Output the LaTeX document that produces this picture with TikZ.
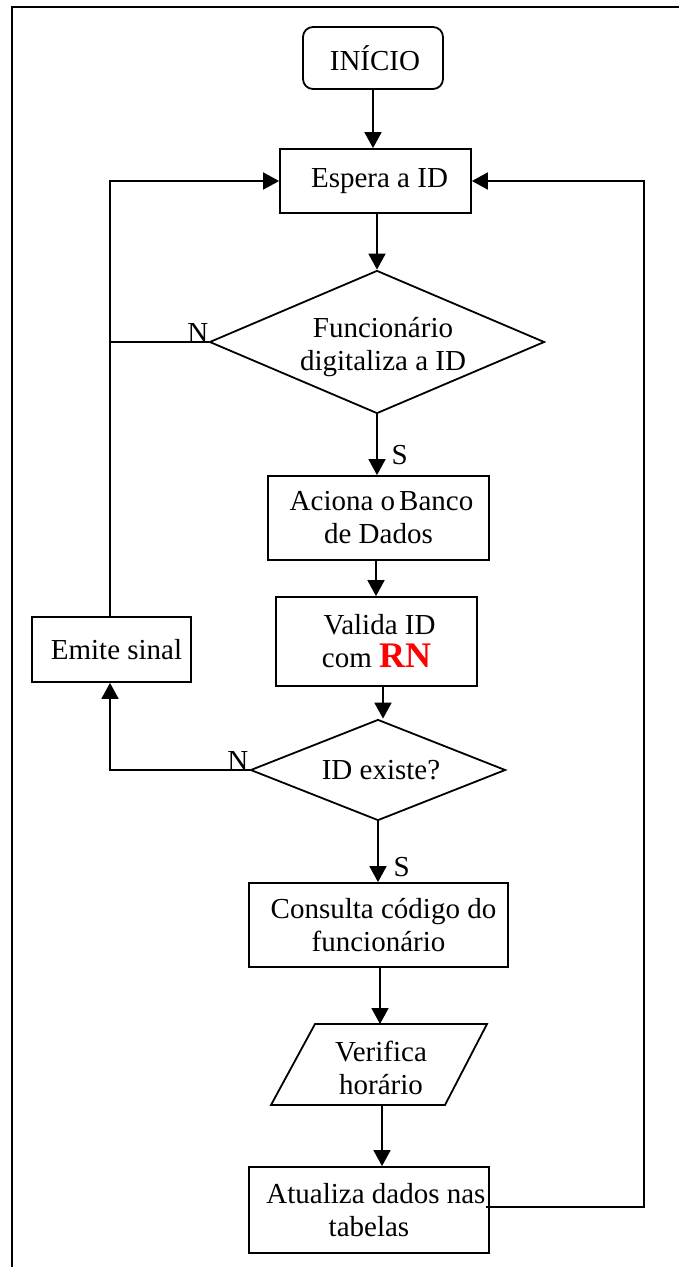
\documentclass[tikz,border=0pt]{standalone}
\usepackage{fontspec}
\setmainfont{Liberation Serif}
\usetikzlibrary{shapes.geometric,arrows.meta,calc}

\begin{document}
\begin{tikzpicture}[x=1pt,y=-1pt,
  txt/.style={font=\fontsize{29}{33}\selectfont, align=center},
  box/.style={draw, line width=1.8pt, txt, inner sep=0pt},
  dec/.style={draw, line width=1.8pt, diamond, inner sep=0pt},
  flow/.style={line width=1.8pt, -{Triangle[length=16pt,width=17pt]}},
  wire/.style={line width=1.8pt},
  yn/.style={font=\fontsize{29}{33}\selectfont, inner sep=0pt}
]
\useasboundingbox (0,0) rectangle (679,1267);

% page frame
\draw[line width=2.4pt] (679,7) -- (12,7) -- (12,1267);

% blocks
\node[box, rounded corners=10pt, minimum width=140pt, minimum height=62pt] (start) at (373,58) {\hspace{4pt}INÍCIO};
\node[box, minimum width=191pt, minimum height=64pt] (espera) at (375.5,181) {\hspace{8pt}Espera a ID};

\node[dec, minimum width=335pt, minimum height=143pt] (d1) at (377,342) {};
\node[txt] (d1t) at (383,347) {Funcionário\\digitaliza a ID};

\node[box, minimum width=221pt, minimum height=84pt] (aciona) at (378.5,518) {\hspace{6pt}Aciona o\kern4pt Banco\\de Dados};
\node[box, minimum width=201pt, minimum height=89pt] (valida) at (376.5,641.5)
  {\hspace{6pt}Valida ID\\com {\fontsize{36}{36}\selectfont\bfseries\color{red}RN}};
\node[box, minimum width=159pt, minimum height=65pt] (emite) at (111.5,649.5) {\hspace{10pt}Emite sinal};

\node[dec, minimum width=255pt, minimum height=101pt] (d2) at (378,770) {};
\node[txt] (d2t) at (381,770) {ID existe?};

\node[box, minimum width=259pt, minimum height=84pt] (consulta) at (378.5,925) {\hspace{10pt}Consulta código do\\funcionário};

% input/output block (parallelogram)
\draw[line width=1.8pt, line join=miter] (315,1024) -- (487,1024) -- (445,1105) -- (271,1105) -- cycle;
\coordinate (pn) at (380,1024);
\coordinate (ps) at (382,1105);
\node[txt] (parat) at (381,1068) {Verifica\\horário};

\node[box, minimum width=240pt, minimum height=86pt] (atualiza) at (369,1210) {\hspace{14pt}Atualiza dados nas\\tabelas};

% main flow
\draw[flow] (start.south) -- (start.south |- espera.north);
\draw[flow] (espera.south -| d1.north) -- (d1.north);
\draw[flow] (d1.south) -- (d1.south |- aciona.north);
\node[yn, anchor=base west] (s1) at ($(aciona.north)+(13,-11)$) {S};
\coordinate (av) at (376,0);
\draw[flow] (aciona.south -| av) -- (valida.north -| av);
\coordinate (vd) at (383,0);
\draw[flow] (valida.south -| vd) -- (d2.north -| vd);
\draw[flow] (d2.south) -- (d2.south |- consulta.north);
\node[yn, anchor=base west] (s2) at ($(consulta.north)+(15,-6)$) {S};
\draw[flow] (consulta.south -| pn) -- (pn);
\draw[flow] (ps) -- (ps |- atualiza.north);

% "no" branches
\coordinate (bus) at (110,617);
\draw[wire] (d1.west) -- (d1.west -| bus);
\node[yn, anchor=south east] (n1) at ($(d1.west)+(0,1)$) {N};
\draw[flow] (bus) -- (bus |- espera.west) -- (espera.west);
\draw[flow] (d2.west) -| (emite.south -| bus);
\node[yn, anchor=south east] (n2) at ($(d2.west)+(-1,1)$) {N};

% loop back from the last block
\coordinate (rloop) at (644,1207);
\draw[flow] ($(atualiza.east)+(-4,-3)$) -- (rloop) -- (rloop |- espera.east) -- (espera.east);
\end{tikzpicture}
\end{document}
